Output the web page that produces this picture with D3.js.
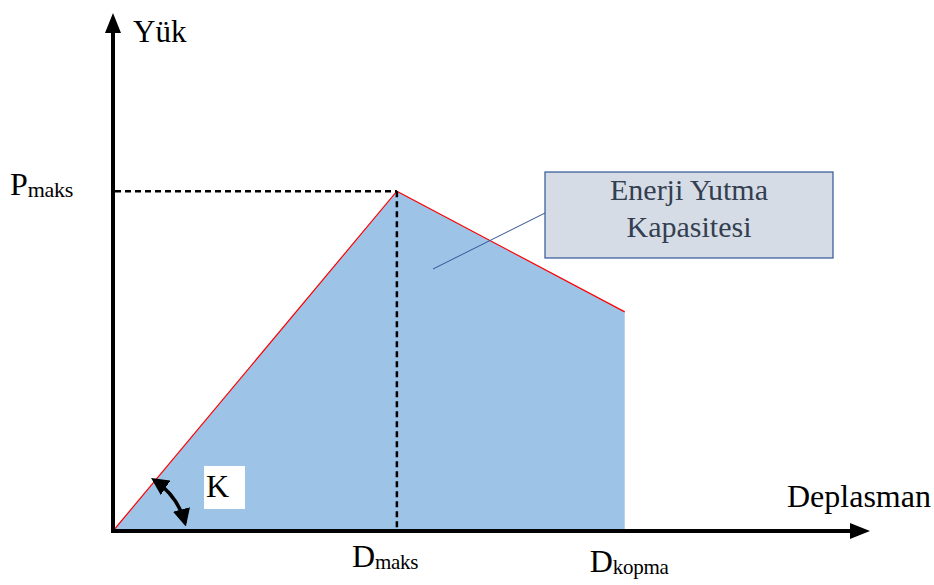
<!DOCTYPE html>
<html><head><meta charset="utf-8">
<script src="https://cdn.jsdelivr.net/npm/d3@7"></script>
<style>html,body{margin:0;padding:0;background:#fff;} svg{display:block;}</style>
</head><body>
<svg id="c" width="934" height="585"></svg>
<script>
// Data (arbitrary units)
const displacement = [0, 37.5, 67.6];      // origin, D_maks, D_kopma
const load = [0, 65.6, 42.3];               // 0, P_maks, load at rupture
const axisLabels = ["Yük", "Deplasman"];
const tickLabels = [{main:"P", sub:"maks"}, {main:"D", sub:"maks"}, {main:"D", sub:"kopma"}];
const calloutLines = ["Enerji Yutma", "Kapasitesi"];
const slopeLabel = "K";

const svg = d3.select("#c");
const font = "'Liberation Serif','Times New Roman',serif";
const x = d3.scaleLinear().domain([0, 100]).range([113, 870]);
const y = d3.scaleLinear().domain([0, 100]).range([531, 13]);

const pts = displacement.map((d, i) => [d, load[i]]);

// filled area
const area = d3.area().x(d => x(d[0])).y0(y(0)).y1(d => y(d[1]));
svg.append("path").datum(pts).attr("d", area).attr("fill", "#9DC3E6");

// red outline
const line = d3.line().x(d => x(d[0])).y(d => y(d[1]));
svg.append("path").datum(pts).attr("d", line).attr("fill", "none")
  .attr("stroke", "#FF0000").attr("stroke-width", 1.2);

// dashed guides
svg.append("line").attr("x1", x(0) + 2).attr("x2", x(displacement[1]))
  .attr("y1", y(load[1])).attr("y2", y(load[1]))
  .attr("stroke", "#000").attr("stroke-width", 2.5).attr("stroke-dasharray", "6,4");
svg.append("line").attr("x1", x(displacement[1])).attr("x2", x(displacement[1]))
  .attr("y1", y(load[1])).attr("y2", y(0))
  .attr("stroke", "#000").attr("stroke-width", 2.5).attr("stroke-dasharray", "6,4");

// axes
svg.append("line").attr("x1", x(0)).attr("x2", x(0)).attr("y1", y(0) + 2).attr("y2", y(100) + 16)
  .attr("stroke", "#000").attr("stroke-width", 4);
svg.append("line").attr("x1", x(0) - 2).attr("x2", x(100) - 16).attr("y1", y(0)).attr("y2", y(0))
  .attr("stroke", "#000").attr("stroke-width", 4);
// arrowheads
svg.append("path").attr("d", `M${x(0)},${y(100)} L${x(0)-8},${y(100)+20} L${x(0)+8},${y(100)+20} Z`).attr("fill", "#000");
svg.append("path").attr("d", `M${x(100)},${y(0)} L${x(100)-20},${y(0)-8} L${x(100)-20},${y(0)+8} Z`).attr("fill", "#000");

// axis labels
svg.append("text").attr("x", 133).attr("y", 42).attr("font-family", font).attr("font-size", 31)
  .attr("fill", "#000").text(axisLabels[0]);
svg.append("text").attr("x", 787).attr("y", 507).attr("font-family", font).attr("font-size", 32)
  .attr("fill", "#000").text(axisLabels[1]);

// tick-like labels with subscripts
function subLabel(xp, yp, lab, subSize) {
  const t = svg.append("text").attr("x", xp).attr("y", yp).attr("font-family", font)
    .attr("font-size", 32).attr("fill", "#000");
  t.append("tspan").text(lab.main);
  t.append("tspan").attr("font-size", subSize).attr("dy", 2).attr("letter-spacing", -0.3).text(lab.sub);
}
subLabel(10, 195, tickLabels[0], 22);
subLabel(x(displacement[1]) - 45, 567, tickLabels[1], 21);
subLabel(x(displacement[2]) - 35, 572, tickLabels[2], 21);

// K box + curved double arrow
svg.append("rect").attr("x", 204).attr("y", 466).attr("width", 41).attr("height", 43).attr("fill", "#fff");
svg.append("text").attr("x", 206).attr("y", 497).attr("font-family", font).attr("font-size", 32)
  .attr("fill", "#000").text(slopeLabel);
const defs = svg.append("defs");
defs.append("marker").attr("id", "ah").attr("viewBox", "0 0 10 10").attr("refX", 8).attr("refY", 5)
  .attr("markerWidth", 5).attr("markerHeight", 5).attr("orient", "auto-start-reverse")
  .append("path").attr("d", "M0,0 L10,5 L0,10 Z").attr("fill", "#000");
svg.append("path").attr("d", "M154,480 Q178,496 185,523")
  .attr("fill", "none").attr("stroke", "#000").attr("stroke-width", 3.5)
  .attr("marker-start", "url(#ah)").attr("marker-end", "url(#ah)");

// callout
svg.append("line").attr("x1", 433).attr("y1", 269).attr("x2", 545).attr("y2", 213)
  .attr("stroke", "#2F5597").attr("stroke-width", 1);
svg.append("rect").attr("x", 545).attr("y", 172).attr("width", 288).attr("height", 86)
  .attr("fill", "#D6DCE5").attr("stroke", "#2F5597").attr("stroke-width", 1.2);
calloutLines.forEach((s, i) => {
  svg.append("text").attr("x", 689).attr("y", 200 + i * 37).attr("text-anchor", "middle")
    .attr("font-family", font).attr("font-size", 30).attr("fill", "#333F50").text(s);
});
</script>
</body></html>
